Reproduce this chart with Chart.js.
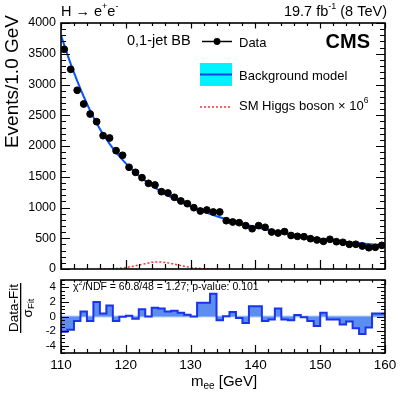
<!DOCTYPE html>
<html>
<head>
<meta charset="utf-8">
<script src="https://cdn.jsdelivr.net/npm/chart.js@4.4.0/dist/chart.umd.min.js"></script>
<style>
html, body { margin: 0; padding: 0; background: #fff; }
#wrap { position: relative; width: 407px; height: 393px; overflow: hidden; }
#main { position: absolute; left: 0; top: 0; }
#ratio { position: absolute; left: 0; top: 265px; }
</style>
</head>
<body>
<div id="wrap">
  <canvas id="main" width="407" height="285"></canvas>
  <canvas id="ratio" width="407" height="128"></canvas>
</div>
<script>
// bin centres, 1 GeV bins from 110 to 160
const massBins = [110.5, 111.5, 112.5, 113.5, 114.5, 115.5, 116.5, 117.5, 118.5, 119.5,
                  120.5, 121.5, 122.5, 123.5, 124.5, 125.5, 126.5, 127.5, 128.5, 129.5,
                  130.5, 131.5, 132.5, 133.5, 134.5, 135.5, 136.5, 137.5, 138.5, 139.5,
                  140.5, 141.5, 142.5, 143.5, 144.5, 145.5, 146.5, 147.5, 148.5, 149.5,
                  150.5, 151.5, 152.5, 153.5, 154.5, 155.5, 156.5, 157.5, 158.5, 159.5];

// events per bin (data)
const dataEvents = [3572, 3247, 2906, 2683, 2520, 2395, 2168, 2130, 1924, 1849,
                    1654, 1572, 1485, 1393, 1366, 1257, 1236, 1166, 1106, 1062,
                    997, 943, 959, 927, 927, 785, 764, 753, 705, 655,
                    705, 678, 602, 585, 608, 545, 531, 525, 493, 472,
                    450, 483, 444, 434, 402, 402, 374, 346, 353, 385];

// background fit
const fitMass = [110].concat(massBins, [160]);
const fitEvents = [3800, 3640, 3335, 3060, 2805, 2575, 2370, 2190, 2035, 1897, 1775,
                   1665, 1565, 1475, 1395, 1322, 1255, 1195, 1140, 1088, 1040,
                   995, 953, 913, 876, 841, 808, 777, 748, 720, 694,
                   669, 646, 624, 603, 583, 565, 547, 530, 514, 499,
                   485, 472, 459, 447, 436, 425, 415, 405, 396, 387, 383];

// SM Higgs x 10^6
const higgsMass = [116, 117, 118, 119, 120, 121, 122, 123, 124, 125, 126, 127, 128, 129, 130, 131, 132, 133, 134];
const higgsEvents = [0, 1, 4, 12, 25, 42, 64, 86, 108, 115, 106, 90, 68, 45, 26, 13, 5, 2, 0];

// (data - fit) / sigma per bin
const pulls = [-1.06, -2.1, -1.8, -0.6, 0.7, -0.6, 2.0, 0.4, 1.5, -0.6,
               -0.05, 0.1, -0.3, 1.0, 0.0, 1.2, 1.1, 0.7, 0.8, 0.5,
               0.25, 0.0, 1.9, 1.9, 3.1, -0.5, 0.05, 0.6, -0.2, -0.9,
               1.4, 1.4, -0.6, -0.4, 1.1, -0.4, -0.5, 0.2, -0.1, -0.6,
               -1.3, 0.5, -0.4, -0.4, -1.1, -0.7, -1.6, -2.4, -1.5, 0.4];

const mainYTicks = [0, 500, 1000, 1500, 2000, 2500, 3000, 3500, 4000];
const ratioYTicks = [-4, -2, 0, 2, 4];
const xTicks = [110, 120, 130, 140, 150, 160];

const FONT = "'Liberation Sans', Arial, Helvetica, sans-serif";

// texte avec exposants / indices
function drawRich(ctx, parts, x, y, align) {
    let w = 0;
    parts.forEach(p => {
        ctx.font = (p.bold ? 'bold ' : '') + p.size + 'px ' + FONT;
        w += ctx.measureText(p.t).width;
    });
    let cx = align === 'right' ? x - w : (align === 'center' ? x - w / 2 : x);
    ctx.textAlign = 'left';
    ctx.textBaseline = 'middle';
    parts.forEach(p => {
        ctx.font = (p.bold ? 'bold ' : '') + p.size + 'px ' + FONT;
        ctx.fillText(p.t, cx, y + (p.dy || 0));
        cx += ctx.measureText(p.t).width;
    });
}

// cadre + graduations vers l'intérieur, sur les 4 côtés
const frameTicks = {
    id: 'frameTicks',
    afterDatasetsDraw(chart, args, o) {
        const {ctx, chartArea: a, scales: {x, y}} = chart;
        ctx.save();
        ctx.strokeStyle = '#000';
        ctx.lineWidth = 1.2;
        ctx.beginPath();
        for (let v = x.min; v <= x.max + 1e-9; v += o.xMinor) {
            const px = Math.round(x.getPixelForValue(v)) + 0.5;
            const major = Math.abs(v / o.xMajor - Math.round(v / o.xMajor)) < 1e-6;
            const len = major ? o.xMajorLen : o.xMinorLen;
            ctx.moveTo(px, a.bottom); ctx.lineTo(px, a.bottom - len);
            ctx.moveTo(px, a.top); ctx.lineTo(px, a.top + len * 0.6);
        }
        for (let v = y.min; v <= y.max + 1e-9; v += o.yMinor) {
            const py = Math.round(y.getPixelForValue(v)) + 0.5;
            const major = Math.abs(v / o.yMajor - Math.round(v / o.yMajor)) < 1e-6;
            const len = major ? o.yMajorLen : o.yMinorLen;
            ctx.moveTo(a.left, py); ctx.lineTo(a.left + len, py);
            ctx.moveTo(a.right, py); ctx.lineTo(a.right - len, py);
        }
        ctx.stroke();
        ctx.lineWidth = 1.6;
        ctx.strokeRect(a.left, a.top, a.right - a.left, a.bottom - a.top);
        ctx.restore();
    }
};

const mainTexts = {
    id: 'mainTexts',
    afterDraw(chart) {
        const ctx = chart.ctx;
        ctx.save();
        ctx.fillStyle = '#000';
        drawRich(ctx, [{t: 'H \u2192 e', size: 14.5}, {t: '+', size: 9, dy: -5},
                       {t: 'e', size: 14.5}, {t: '-', size: 9, dy: -5}], 61, 12, 'left');
        drawRich(ctx, [{t: '19.7 fb', size: 14.5}, {t: '-1', size: 9, dy: -5},
                       {t: ' (8 TeV)', size: 14.5}], 387, 12, 'right');
        drawRich(ctx, [{t: '0,1-jet BB', size: 14.5}], 127, 41, 'left');
        drawRich(ctx, [{t: 'CMS', size: 20, bold: true}], 370, 42, 'right');

        // légende
        ctx.strokeStyle = '#000';
        ctx.lineWidth = 1.5;
        ctx.beginPath(); ctx.moveTo(202, 41.5); ctx.lineTo(232, 41.5); ctx.stroke();
        ctx.beginPath(); ctx.arc(217, 41.5, 3.4, 0, Math.PI * 2); ctx.fill();
        drawRich(ctx, [{t: 'Data', size: 13}], 239, 43, 'left');

        ctx.fillStyle = '#00f4ff';
        ctx.fillRect(200, 63, 32, 23);
        ctx.strokeStyle = '#0a40ee';
        ctx.lineWidth = 2;
        ctx.beginPath(); ctx.moveTo(200, 74.5); ctx.lineTo(232, 74.5); ctx.stroke();
        ctx.fillStyle = '#000';
        drawRich(ctx, [{t: 'Background model', size: 13}], 239, 76, 'left');

        ctx.strokeStyle = '#ff3030';
        ctx.lineWidth = 1.5;
        ctx.setLineDash([2, 2]);
        ctx.beginPath(); ctx.moveTo(200, 107); ctx.lineTo(232, 107); ctx.stroke();
        ctx.setLineDash([]);
        drawRich(ctx, [{t: 'SM Higgs boson \u00d7 10', size: 13}, {t: '6', size: 8.5, dy: -5}], 239, 106, 'left');

        // titre axe y
        ctx.translate(13, 15);
        ctx.rotate(-Math.PI / 2);
        drawRich(ctx, [{t: 'Events/1.0 GeV', size: 19}], 0, 0, 'right');
        ctx.restore();
    }
};

const ratioTexts = {
    id: 'ratioTexts',
    afterDraw(chart) {
        const ctx = chart.ctx;
        ctx.save();
        ctx.fillStyle = '#000';
        drawRich(ctx, [{t: '\u03c7', size: 10.5}, {t: '2', size: 7, dy: -4},
                       {t: '/NDF = 60.8/48 = 1.27; p-value: 0.101', size: 10.5}], 73, 22, 'left');
        drawRich(ctx, [{t: 'm', size: 15}, {t: 'ee', size: 10, dy: 4}, {t: ' [GeV]', size: 15}], 224, 117, 'center');

        ctx.save();
        ctx.translate(14, 43);
        ctx.rotate(-Math.PI / 2);
        drawRich(ctx, [{t: 'Data-Fit', size: 13.5}], 0, 0, 'center');
        ctx.fillRect(-25, 6, 50, 1.3);
        drawRich(ctx, [{t: '\u03c3', size: 13.5}, {t: 'Fit', size: 9.5, dy: 3}], 0, 14, 'center');
        ctx.restore();
        ctx.restore();
    }
};

const tickFont = {family: FONT, size: 12.5};
const plainLabel = v => String(v);

new Chart(document.getElementById('main'), {
    type: 'scatter',
    data: {
        datasets: [{
            type: 'line',
            label: 'Data',
            data: massBins.map((m, i) => ({x: m, y: dataEvents[i]})),
            showLine: false,
            pointRadius: 3.4,
            pointBackgroundColor: '#000',
            pointBorderColor: '#000',
            order: 1
        }, {
            type: 'line',
            label: 'Background model',
            data: fitMass.map((m, i) => ({x: m, y: fitEvents[i]})),
            borderColor: '#0a55ff',
            borderWidth: 2,
            pointRadius: 0,
            cubicInterpolationMode: 'monotone',
            order: 2
        }, {
            type: 'line',
            label: 'SM Higgs boson x 10^6',
            data: higgsMass.map((m, i) => ({x: m, y: higgsEvents[i]})),
            borderColor: '#ff3030',
            borderWidth: 1.5,
            borderDash: [2, 2],
            pointRadius: 0,
            cubicInterpolationMode: 'monotone',
            order: 3
        }]
    },
    options: {
        responsive: false,
        animation: false,
        layout: {padding: {top: 23, right: 22, left: 0, bottom: 0}},
        plugins: {
            legend: {display: false},
            tooltip: {enabled: false},
            frameTicks: {xMajor: 10, xMinor: 2, yMajor: 500, yMinor: 100,
                         xMajorLen: 9, xMinorLen: 5, yMajorLen: 9, yMinorLen: 5}
        },
        scales: {
            x: {
                type: 'linear', min: 110, max: 160,
                grid: {display: false, drawTicks: false},
                border: {display: false},
                ticks: {display: false},
                afterFit(s) { s.height = 16; }
            },
            y: {
                min: 0, max: 4000,
                afterBuildTicks(s) { s.ticks = mainYTicks.map(v => ({value: v})); },
                grid: {display: false, drawTicks: false},
                border: {display: false},
                ticks: {font: tickFont, color: '#000', padding: 5, callback: plainLabel},
                afterFit(s) { s.width = 61; }
            }
        }
    },
    plugins: [frameTicks, mainTexts]
});

// histogramme des pulls en escalier
const pullSteps = massBins.map((m, i) => ({x: m - 0.5, y: pulls[i]}))
    .concat([{x: 160, y: pulls[pulls.length - 1]}]);

new Chart(document.getElementById('ratio'), {
    type: 'line',
    data: {
        datasets: [{
            label: 'pull',
            data: pullSteps,
            stepped: 'after',
            fill: 'origin',
            backgroundColor: '#5b8ef0',
            borderColor: '#1a33ee',
            borderWidth: 2,
            pointRadius: 0,
            order: 1
        }, {
            label: 'zero',
            data: [{x: 110, y: 0}, {x: 160, y: 0}],
            borderColor: '#b8d4ff',
            borderWidth: 2,
            pointRadius: 0,
            order: 2
        }]
    },
    options: {
        responsive: false,
        animation: false,
        layout: {padding: {top: 15, right: 22, left: 0, bottom: 0}},
        plugins: {
            legend: {display: false},
            tooltip: {enabled: false},
            frameTicks: {xMajor: 10, xMinor: 2, yMajor: 2, yMinor: 0.5,
                         xMajorLen: 8, xMinorLen: 4, yMajorLen: 8, yMinorLen: 4}
        },
        scales: {
            x: {
                type: 'linear', min: 110, max: 160,
                afterBuildTicks(s) { s.ticks = xTicks.map(v => ({value: v})); },
                grid: {display: false, drawTicks: false},
                border: {display: false},
                ticks: {font: {family: FONT, size: 13.5}, color: '#000', padding: 4, maxRotation: 0, callback: plainLabel},
                afterFit(s) { s.height = 40; }
            },
            y: {
                min: -5, max: 5,
                afterBuildTicks(s) { s.ticks = ratioYTicks.map(v => ({value: v})); },
                grid: {display: false, drawTicks: false},
                border: {display: false},
                ticks: {font: {family: FONT, size: 11.5}, color: '#000', padding: 5, callback: plainLabel},
                afterFit(s) { s.width = 61; }
            }
        }
    },
    plugins: [frameTicks, ratioTexts]
});
</script>
</body>
</html>
